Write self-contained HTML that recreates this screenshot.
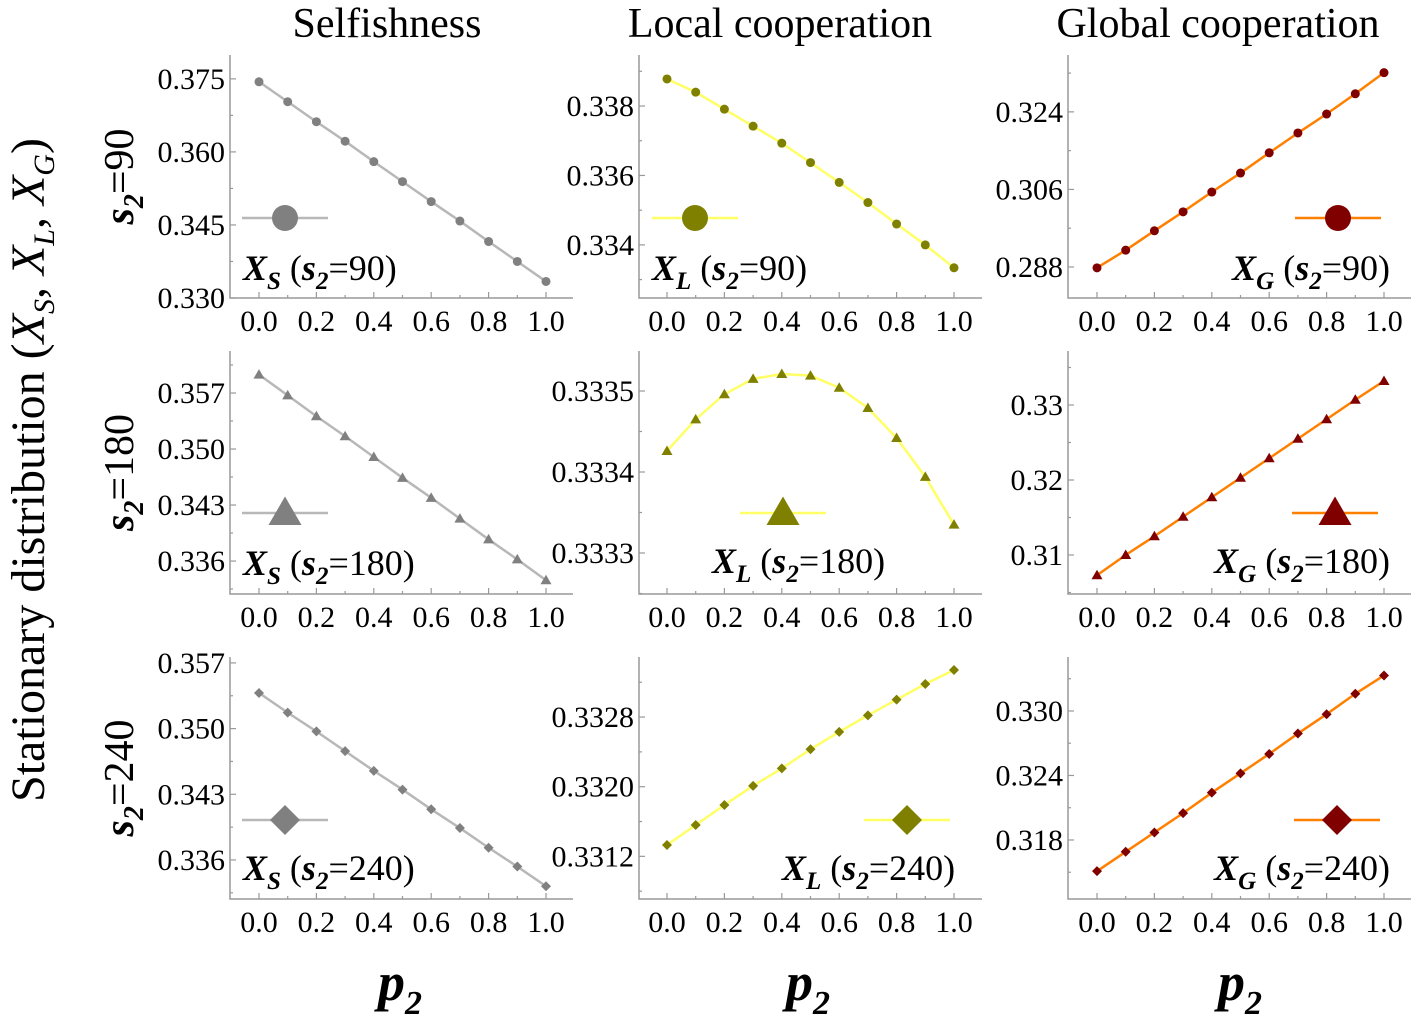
<!DOCTYPE html>
<html><head><meta charset="utf-8"><style>
html,body{margin:0;padding:0;background:#fff;}
svg, svg text, svg tspan{font-family:"Liberation Serif","Times New Roman","DejaVu Serif",serif;}
</style></head><body>
<svg id="fig" width="1417" height="1022" viewBox="0 0 1417 1022" xmlns="http://www.w3.org/2000/svg" font-family="Liberation Serif, serif">
<g font-size="42" text-anchor="middle">
<text x="387" y="37">Selfishness</text>
<text x="780" y="37">Local cooperation</text>
<text x="1218" y="37">Global cooperation</text>
</g>
<text transform="translate(44,470) rotate(-90)" font-size="48" text-anchor="middle">Stationary distribution (<tspan font-style="italic">X</tspan><tspan font-style="italic" font-size="30" dy="10">S</tspan><tspan dy="-10">, </tspan><tspan font-style="italic">X</tspan><tspan font-style="italic" font-size="30" dy="10">L</tspan><tspan dy="-10">, </tspan><tspan font-style="italic">X</tspan><tspan font-style="italic" font-size="30" dy="10">G</tspan><tspan dy="-10">)</tspan></text>
<g id="panels"></g>
</svg>
<script>
const xValues=[0,0.1,0.2,0.3,0.4,0.5,0.6,0.7,0.8,0.9,1.0];
const xTickLabels=["0.0","0.2","0.4","0.6","0.8","1.0"];
const rowLabels=["90","180","240"];
const seriesS90=[0.3744,0.3703,0.3662,0.3622,0.3580,0.3539,0.3498,0.3458,0.3416,0.3375,0.3334];
const seriesL90=[0.33878,0.33840,0.33791,0.33742,0.33693,0.33637,0.33580,0.33522,0.33460,0.33400,0.33334];
const seriesG90=[0.2878,0.2919,0.2964,0.3008,0.3054,0.3098,0.3145,0.3191,0.3235,0.3282,0.3331];
const seriesS180=[0.3593,0.3567,0.3541,0.3516,0.3490,0.3464,0.3439,0.3413,0.3387,0.3362,0.3336];
const seriesL180=[0.333426,0.333465,0.333496,0.333515,0.333521,0.333519,0.333504,0.333479,0.333442,0.333394,0.333335];
const seriesG180=[0.3073,0.3100,0.3125,0.3151,0.3177,0.3203,0.3229,0.3255,0.3281,0.3307,0.3332];
const seriesS240=[0.3538,0.3517,0.3497,0.3476,0.3455,0.3435,0.3414,0.3394,0.3373,0.3353,0.3332];
const seriesL240=[0.33133,0.33156,0.33179,0.33201,0.33221,0.33243,0.33263,0.33282,0.33300,0.33318,0.33334];
const seriesG240=[0.3151,0.3169,0.3187,0.3205,0.3224,0.3242,0.3260,0.3279,0.3297,0.3316,0.3333];
const yTicksS90=[0.330,0.345,0.360,0.375], yLabS90=["0.330","0.345","0.360","0.375"];
const yTicksL90=[0.334,0.336,0.338], yLabL90=["0.334","0.336","0.338"];
const yTicksG90=[0.288,0.306,0.324], yLabG90=["0.288","0.306","0.324"];
const yTicksS180=[0.336,0.343,0.350,0.357], yLabS180=["0.336","0.343","0.350","0.357"];
const yTicksL180=[0.3333,0.3334,0.3335], yLabL180=["0.3333","0.3334","0.3335"];
const yTicksG180=[0.31,0.32,0.33], yLabG180=["0.31","0.32","0.33"];
const yTicksS240=[0.336,0.343,0.350,0.357], yLabS240=["0.336","0.343","0.350","0.357"];
const yTicksL240=[0.3312,0.3320,0.3328], yLabL240=["0.3312","0.3320","0.3328"];
const yTicksG240=[0.318,0.324,0.330], yLabG240=["0.318","0.324","0.330"];

const NS="http://www.w3.org/2000/svg";
const FF="Liberation Serif, serif";
const root=document.getElementById('panels');
function mk(tag,attrs,parent){const e=document.createElementNS(NS,tag);for(const k in attrs)e.setAttribute(k,attrs[k]);if(tag==='text')e.setAttribute('font-family',FF);(parent||root).appendChild(e);return e;}
const colX=[230,639,1068], colX0=[259,667,1097], xSpan=287;
const rowTop=[55,351,657], rowBot=[298,594,899];
const styles=[{line:"#b8b8b8",mark:"#808080",sub:"S"},{line:"#ffff66",mark:"#808000",sub:"L"},{line:"#ff8000",mark:"#800000",sub:"G"}];
const shapes=["circle","triangle","diamond"];
const panels=[
 [[seriesS90,yTicksS90,yLabS90,[0.330,0.3799]],[seriesL90,yTicksL90,yLabL90,[0.33247,0.33947]],[seriesG90,yTicksG90,yLabG90,[0.2808,0.3372]]],
 [[seriesS180,yTicksS180,yLabS180,[0.33188,0.36225]],[seriesL180,yTicksL180,yLabL180,[0.33324938,0.33354938]],[seriesG180,yTicksG180,yLabG180,[0.3048,0.3372]]],
 [[seriesS240,yTicksS240,yLabS240,[0.33184,0.35763]],[seriesL240,yTicksL240,yLabL240,[0.33071,0.33349]],[seriesG240,yTicksG240,yLabG240,[0.31251,0.33502]]]];
const legendPos=[[[285,218],[695,218],[1338,218]],[[285,513],[783,513],[1335,513]],[[285,820],[907,820],[1337,820]]];
const labelPos=[[[243,280,"start"],[652,280,"start"],[1390,280,"end"]],[[243,575,"start"],[712,573,"start"],[1390,573,"end"]],[[243,880,"start"],[782,880,"start"],[1390,880,"end"]]];
function marker(g,shape,cx,cy,s,fill){
 if(shape==="circle") return mk('circle',{cx:cx,cy:cy,r:s,fill:fill},g);
 if(shape==="triangle") return mk('polygon',{points:`${cx},${cy-s*1.1} ${cx-s*1.1},${cy+s*0.8} ${cx+s*1.1},${cy+s*0.8}`,fill:fill},g);
 return mk('polygon',{points:`${cx},${cy-s} ${cx+s},${cy} ${cx},${cy+s} ${cx-s},${cy}`,fill:fill},g);
}
for(let r=0;r<3;r++){
 const rl=mk('text',{transform:`translate(133,${(rowTop[r]+rowBot[r])/2}) rotate(-90)`,'font-size':42,'text-anchor':'middle'});
 
 
 rl.innerHTML=`<tspan font-weight="bold" font-style="italic">s</tspan><tspan font-weight="bold" font-style="italic" font-size="28" dy="10">2</tspan><tspan dy="-10">=${rowLabels[r]}</tspan>`;
 for(let c=0;c<3;c++){
  const [vals,ticks,labs,dom]=panels[r][c];
  const st=styles[c], top=rowTop[r], bot=rowBot[r];
  const g=mk('g',{});
  
  
  const X=v=>colX0[c]+v*xSpan;
  const Y=v=>bot-(v-dom[0])/(dom[1]-dom[0])*(bot-top);
  const ax=mk('path',{d:`M${colX[c]},${top}V${bot}H${colX[c]+343}`,stroke:"#999",fill:"none","stroke-width":1.5},g);
  
  
  for(let i=0;i<=10;i++){const x=X(i/10);mk('line',{x1:x,x2:x,y1:bot,y2:bot-(i%2?3:6),stroke:"#999","stroke-width":1.2},g);}
  for(let i=0;i<6;i++){
   const t=mk('text',{x:X(i*0.2),y:bot+33,'font-size':30,'text-anchor':'middle'},g);
   
   
   t.textContent=xTickLabels[i];
  }
  const step=ticks[1]-ticks[0];
  for(let k=-1;k<=ticks.length;k++){
   const v=ticks[0]+(k+0.5)*step; const y=Y(v);
   if(y>top&&y<bot) mk('line',{x1:colX[c],x2:colX[c]+3,y1:y,y2:y,stroke:"#999","stroke-width":1.2},g);
  }
  ticks.forEach((v,i)=>{
   const y=Y(v);
   mk('line',{x1:colX[c],x2:colX[c]+6,y1:y,y2:y,stroke:"#999","stroke-width":1.2},g);
   const t=mk('text',{x:colX[c]-5,y:y+10,'font-size':30,'text-anchor':'end'},g);
   
   
   t.textContent=labs[i];
  });
  const pl=mk('polyline',{points:vals.map((v,i)=>X(xValues[i])+","+Y(v)).join(" "),fill:"none",stroke:st.line,"stroke-width":2.5},g);
  
  
  vals.forEach((v,i)=>{
   const m=marker(g,shapes[r],X(xValues[i]),Y(v),r===0?4.5:5,st.mark);
   
   
  });
  const [lx,ly]=legendPos[r][c];
  const lg=mk('g',{},g);
  
  
  mk('line',{x1:lx-43,x2:lx+43,y1:ly,y2:ly,stroke:st.line,"stroke-width":2.5},lg);
  marker(lg,shapes[r],lx,ly,r===0?13:15,st.mark);
  const [tx,ty,anc]=labelPos[r][c];
  const lt=mk('text',{x:tx,y:ty,'font-size':36,'text-anchor':anc},lg);
  
  
  lt.innerHTML=`<tspan font-weight="bold" font-style="italic">X</tspan><tspan font-weight="bold" font-style="italic" font-size="25" dy="9">${st.sub}</tspan><tspan dy="-9"> (</tspan><tspan font-weight="bold" font-style="italic">s</tspan><tspan font-weight="bold" font-style="italic" font-size="25" dy="9">2</tspan><tspan dy="-9">=${rowLabels[r]})</tspan>`;
 }
}
[400,808,1240].forEach(x=>{
 const t=mk('text',{x:x,y:1000,'font-size':54,'text-anchor':'middle','font-weight':'bold','font-style':'italic'});
 
 
 t.innerHTML=`p<tspan font-size="34" dy="14">2</tspan>`;
});
</script>
</body></html>
